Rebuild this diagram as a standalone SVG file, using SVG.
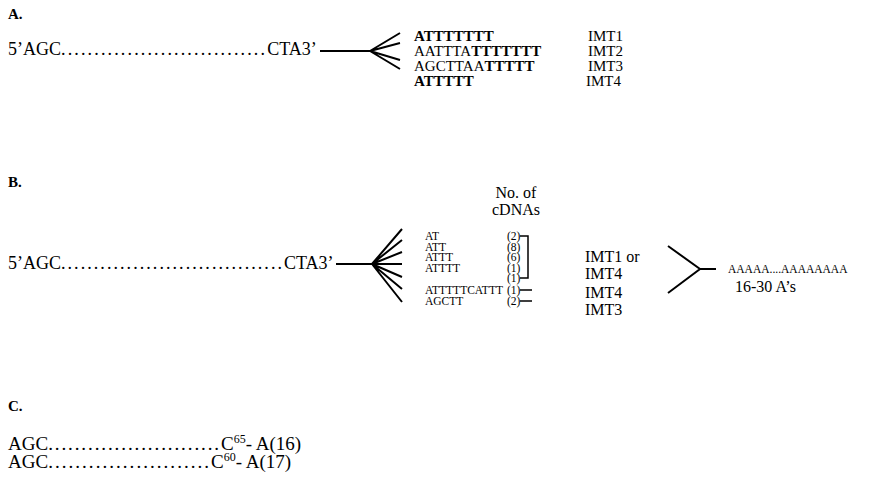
<svg xmlns="http://www.w3.org/2000/svg" width="873" height="485" viewBox="0 0 873 485">
<style>
text{font-family:"Liberation Serif","Times New Roman",serif;fill:#000}
.lab{font-weight:bold;font-size:15px}
.seq{font-size:18px}
.seqc{font-size:19px}
.seqa{font-size:15px}
.b{font-weight:bold}
.imtA{font-size:15px}
.sm{font-size:11.5px}
.md{font-size:16px}
.ln{stroke:#000;stroke-width:2;fill:none;stroke-linecap:butt}
.thin{stroke:#000;stroke-width:1.5;fill:none}
</style>
<rect width="873" height="485" fill="#fff"/>
<g id="panelA">
<text class="lab" x="8" y="19">A.</text>
<g id="A-template">
<text class="seq" x="8" y="55">5’AGC<tspan letter-spacing="2.15">...............................</tspan>CTA3’</text>
</g>
<g id="A-ends">
<text class="seqa b" x="414" y="41">ATTTTTTT</text>
<text class="seqa" x="414" y="56">AATTTA<tspan class="b">TTTTTTT</tspan></text>
<text class="seqa" x="414" y="71">AGCTTAA<tspan class="b">TTTTT</tspan></text>
<text class="seqa b" x="414" y="86">ATTTTT</text>
</g>
<g id="A-imt">
<text class="imtA" x="588" y="41">IMT1</text>
<text class="imtA" x="588" y="56">IMT2</text>
<text class="imtA" x="588" y="71">IMT3</text>
<text class="imtA" x="586" y="86">IMT4</text>
</g>
</g>
<g id="panelB">
<text class="lab" x="8" y="187">B.</text>
<g id="B-template">
<text class="seq" x="8" y="269">5’AGC<tspan letter-spacing="2.06">..................................</tspan>CTA3’</text>
</g>
<g id="B-header">
<text class="md" font-size="14.5" x="516" y="198" text-anchor="middle">No. of</text>
<text class="md" font-size="14.5" x="516" y="215" text-anchor="middle">cDNAs</text>
</g>
<g id="B-ends">
<text class="sm" x="425" y="240">AT</text>
<text class="sm" x="425" y="250.5">ATT</text>
<text class="sm" x="425" y="261">ATTT</text>
<text class="sm" x="425" y="271.5">ATTTT</text>
<text class="sm" x="425" y="294">ATTTTTCATTT</text>
<text class="sm" x="425" y="305">AGCTT</text>
</g>
<g id="B-counts">
<text class="sm" x="507" y="240">(2)</text>
<text class="sm" x="507" y="250.5">(8)</text>
<text class="sm" x="507" y="261">(6)</text>
<text class="sm" x="507" y="271.5">(1)</text>
<text class="sm" x="507" y="282">(1)</text>
<text class="sm" x="507" y="294">(1)</text>
<text class="sm" x="507" y="305">(2)</text>
</g>
<g id="B-imt">
<text class="md" x="585" y="262">IMT1 or</text>
<text class="md" x="585" y="279">IMT4</text>
<text class="md" x="585" y="298">IMT4</text>
<text class="md" x="585" y="315">IMT3</text>
</g>
<g id="B-polyA">
<text class="sm" x="728" y="273">AAAAA....AAAAAAAA</text>
<text class="md" x="735" y="292">16-30 A’s</text>
</g>
</g>
<g id="panelC">
<text class="lab" x="8" y="411">C.</text>
<text id="C-row1" class="seqc" x="8" y="450">AGC<tspan letter-spacing="1.9">..........................</tspan>C<tspan font-size="12" dy="-7">65</tspan><tspan dy="7">- A(16)</tspan></text>
<text id="C-row2" class="seqc" x="8" y="468">AGC<tspan letter-spacing="2.04">........................</tspan>C<tspan font-size="12" dy="-7">60</tspan><tspan dy="7">- A(17)</tspan></text>
</g>
<g id="connectors">
<path class="ln" d="M320,51 H370 M370,51 L400,33 M370,51 L400,43 M370,51 L400,60 M370,51 L400,69"/>
<path class="ln" d="M336,264 H372 M372,264 L402,229 M372,264 L402,240 M372,264 L402,252 M372,264 H402 M372,264 L402,277 M372,264 L402,289 M372,264 L402,302"/>
<path class="thin" d="M520,236 H528 V278 H520 M520,290 H532 M520,301 H532"/>
<path class="ln" d="M668,246 L700,269 L668,293 M700,269 H716"/>
</g>
</svg>
